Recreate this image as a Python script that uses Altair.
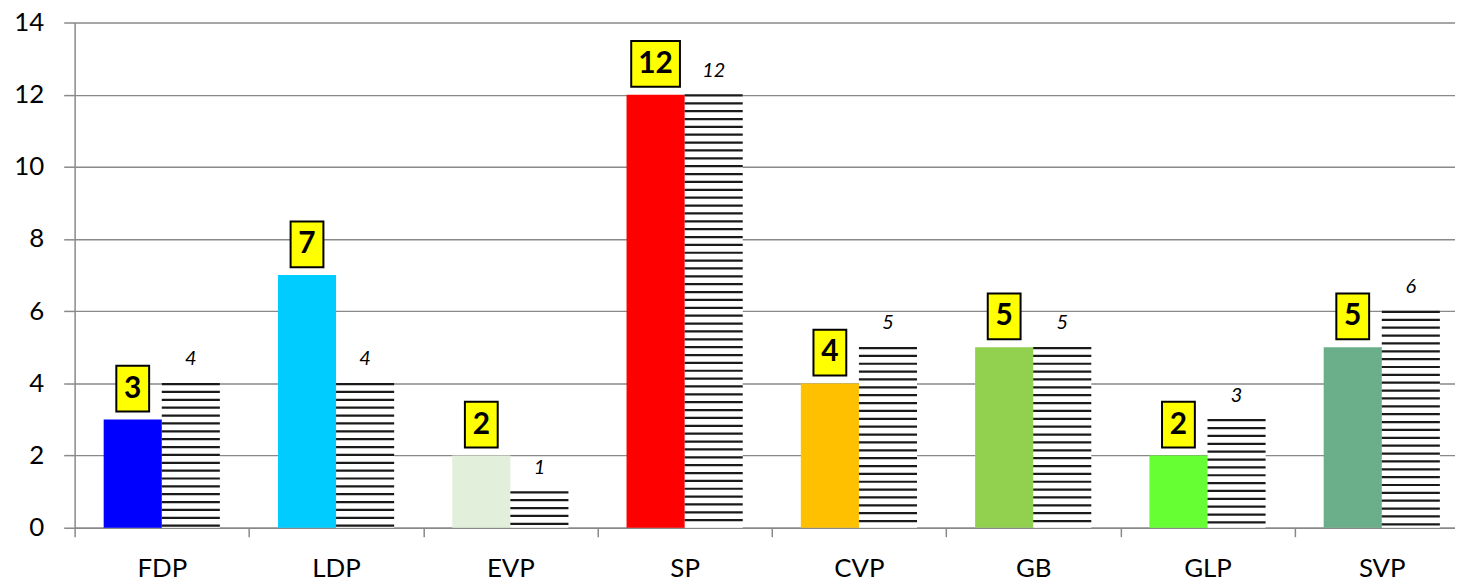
import altair as alt
import pandas as pd

parties = ["FDP", "LDP", "EVP", "SP", "CVP", "GB", "GLP", "SVP"]
seats_new = [3, 7, 2, 12, 4, 5, 2, 5]
seats_old = [4, 4, 1, 12, 5, 5, 3, 6]
colors = ["#0000FF", "#00CCFF", "#E2EFDA", "#FF0000", "#FFC000", "#92D050", "#66FF33", "#6AAE8A"]
y_ticks = [0, 2, 4, 6, 8, 10, 12, 14]

HATCH_STEP = 0.218   # spacing of hatch lines (data units)
HATCH_THICK = 0.062  # thickness of hatch lines (data units)

df_a = pd.DataFrame({
    "party": parties, "series": "a", "value": seats_new,
    "label": [str(v) for v in seats_new],
    "nd": [str(len(str(v))) for v in seats_new],
})
df_b = pd.DataFrame({
    "party": parties, "series": "b", "value": seats_old,
    "label": [str(v) for v in seats_old],
})

rows = []
for p, v in zip(parties, seats_old):
    k = 0
    while v - k * HATCH_STEP - HATCH_THICK / 2 > 0:
        c = v - k * HATCH_STEP - 0.02
        rows.append({"party": p, "series": "b", "y1": c + HATCH_THICK / 2, "y2": c - HATCH_THICK / 2})
        k += 1
df_h = pd.DataFrame(rows)

FONT = "Lato"
GRAY = "#898989"

x_enc = alt.X(
    "party:N", sort=parties,
    scale=alt.Scale(domain=parties, range=[0, 1402], paddingInner=0, paddingOuter=0),
    axis=alt.Axis(title=None, labelAngle=0, tickBand="extent", tickSize=9, tickColor=GRAY,
                  domainColor=GRAY, domainWidth=1.5, tickWidth=1.5, labelPadding=19,
                  labelFont=FONT, labelFontSize=26, labelColor="black"),
)
xo_enc = alt.XOffset("series:N", scale=alt.Scale(domain=["a", "b"], paddingInner=0, paddingOuter=0.5))
y_scale = alt.Scale(domain=[0, 14], nice=False, zero=True)
y_enc = alt.Y(
    "value:Q", scale=y_scale,
    axis=alt.Axis(title=None, values=y_ticks, grid=True, gridColor=GRAY, gridWidth=1.4,
                  domainColor=GRAY, domainWidth=1.5, tickColor=GRAY, tickWidth=1.5, tickSize=11,
                  labelPadding=20, labelFont=FONT, labelFontSize=26, labelColor="black"),
)

bg = alt.Chart(df_b).mark_bar(color="white").encode(x=x_enc, xOffset=xo_enc, y=y_enc)

filled = alt.Chart(df_a).mark_bar().encode(
    x=x_enc, xOffset=xo_enc, y=alt.Y("value:Q", scale=y_scale),
    color=alt.Color("party:N", scale=alt.Scale(domain=parties, range=colors), legend=None),
)

hatch = alt.Chart(df_h).mark_bar(color="#1a1a1a").encode(
    x=x_enc, xOffset=xo_enc, y=alt.Y("y1:Q", scale=y_scale), y2="y2:Q",
)

box1 = "M-16.5,-54H16.5V-8H-16.5Z"
box2 = "M-24.5,-54H24.5V-8H-24.5Z"
boxes = alt.Chart(df_a).mark_point(size=4, filled=True, fill="#FFFF00", stroke="black",
                                   strokeWidth=2, opacity=1).encode(
    x=x_enc, xOffset=xo_enc, y=alt.Y("value:Q", scale=y_scale),
    shape=alt.Shape("nd:N", scale=alt.Scale(domain=["1", "2"], range=[box1, box2]), legend=None),
)

bold_txt = alt.Chart(df_a).mark_text(dy=-31, fontSize=30, fontWeight="bold", font=FONT,
                                     baseline="middle", color="black").encode(
    x=x_enc, xOffset=xo_enc, y=alt.Y("value:Q", scale=y_scale), text="label:N",
)

ital_txt = alt.Chart(df_b).mark_text(dy=-24, fontSize=20, fontStyle="italic", font=FONT,
                                     baseline="middle", color="black").encode(
    x=x_enc, xOffset=xo_enc, y=alt.Y("value:Q", scale=y_scale), text="label:N",
)

chart = alt.layer(bg, filled, hatch, boxes, bold_txt, ital_txt).properties(
    width=1388, height=508,
    autosize=alt.AutoSizeParams(type="none"),
    padding={"left": 67, "top": 13, "right": 0, "bottom": 56},
    background="white",
).configure_view(stroke=None)

chart.save("out.html", embed_options={"renderer": "svg", "actions": False})
